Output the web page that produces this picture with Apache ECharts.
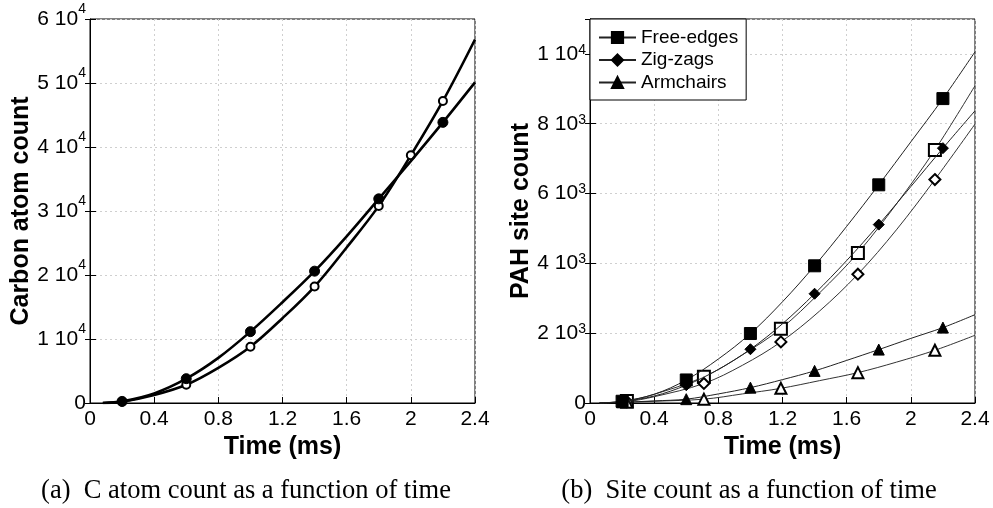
<!DOCTYPE html>
<html><head><meta charset="utf-8">
<script src="https://cdn.jsdelivr.net/npm/echarts@6/dist/echarts.min.js"></script>
<style>html,body{margin:0;padding:0;background:#fff}#c{width:993px;height:508px}</style>
</head><body><div id="c"></div>
<script>
// ---------- Panel (a): carbon atom count vs time (ms) ----------
const carbonTime   = [0.08, 0.2, 0.4, 0.6, 0.8, 1.0, 1.2, 1.4, 1.6, 1.8, 2.0, 2.2, 2.4];
const carbonFilled = [0, 250, 1500, 3800, 7050, 11150, 15750, 20600, 26050, 31900, 37800, 43850, 50100];
const carbonOpen   = [0, 200, 1250, 2850, 5500, 8800, 13250, 18200, 24300, 30800, 38700, 47200, 56800];
const carbonFilledMarks = [0.2, 0.6, 1.0, 1.4, 1.8, 2.2];
const carbonOpenMarks   = [0.2, 0.6, 1.0, 1.4, 1.8, 2.0, 2.2];

// ---------- Panel (b): PAH site count vs time (ms) ----------
const siteTimeA  = [0.06, 0.2, 0.4, 0.6, 0.8, 1.0, 1.2, 1.4, 1.6, 1.8, 2.0, 2.2, 2.4];
const freeEdges  = [0, 50, 250, 660, 1260, 1990, 2900, 3930, 5060, 6250, 7480, 8720, 10060];
const zigZags    = [0, 40, 200, 510, 960, 1540, 2270, 3130, 4080, 5110, 6200, 7300, 8370];
const armchairs  = [0, 20, 60, 110, 260, 440, 670, 920, 1220, 1530, 1850, 2160, 2530];
const siteMarksA = [0.2, 0.6, 1.0, 1.4, 1.8, 2.2];

const siteTimeB  = [0.06, 0.23, 0.4, 0.71, 0.95, 1.19, 1.43, 1.67, 1.91, 2.15, 2.4];
const freeEdgesB = [0, 60, 250, 750, 1380, 2130, 3150, 4300, 5700, 7250, 9090];
const zigZagsB   = [0, 40, 180, 560, 1080, 1750, 2630, 3690, 4960, 6400, 7990];
const armchairsB = [0, 20, 50, 110, 260, 420, 640, 870, 1170, 1510, 1940];
const siteMarksB = [0.23, 0.71, 1.19, 1.67, 2.15];

// ---------- tick labels ----------
const xTickLabels = ['0', '0.4', '0.8', '1.2', '1.6', '2', '2.4'];
const carbonTickLabels = [['0', ''], ['1 10', '4'], ['2 10', '4'], ['3 10', '4'], ['4 10', '4'], ['5 10', '4'], ['6 10', '4']];
const siteTickLabels = [['0', ''], ['2 10', '3'], ['4 10', '3'], ['6 10', '3'], ['8 10', '3'], ['1 10', '4']];
const legendNames = ['Free-edges', 'Zig-zags', 'Armchairs'];
const captions = ['(a)  C atom count as a function of time', '(b)  Site count as a function of time'];

const SANS = 'Liberation Sans, Arial, sans-serif';
const SERIF = 'Liberation Serif, Times New Roman, serif';

function richLabel(labels, step) {
  return function (v) {
    const l = labels[Math.round(v / step)];
    if (!l) return '';
    return l[1] ? '{n|' + l[0] + '}{s|' + l[1] + '}' : '{n|' + l[0] + '}';
  };
}

function xAxisCfg(gi) {
  return {
    type: 'value', gridIndex: gi, min: 0, max: 2.4, interval: 0.4, position: 'bottom',
    name: 'Time (ms)', nameLocation: 'middle', nameGap: 20,
    nameTextStyle: { fontFamily: SANS, fontWeight: 'bold', fontSize: 25, color: '#000' },
    axisLine: { show: true, onZero: false, lineStyle: { color: '#000', width: 1 } },
    axisTick: { show: true, inside: true, length: 6, lineStyle: { color: '#000' } },
    axisLabel: { margin: 6, fontSize: 21, fontFamily: SANS, color: '#000',
      formatter: v => xTickLabels[Math.round(v / 0.4)] },
    splitLine: { show: true, lineStyle: { color: '#cfcfcf', type: [2, 3], width: 1 } }
  };
}

function yAxisCfg(gi, name, max, step, labels, supShift) {
  return {
    type: 'value', gridIndex: gi, min: 0, max: max, interval: step, position: 'left',
    name: name, nameLocation: 'middle', nameGap: 52,
    nameTextStyle: { fontFamily: SANS, fontWeight: 'bold', fontSize: 25, color: '#000' },
    axisLine: { show: true, onZero: false, lineStyle: { color: '#000', width: 1 } },
    axisTick: { show: true, inside: true, length: 6, lineStyle: { color: '#000' } },
    axisLabel: { margin: 4, color: '#000', formatter: richLabel(labels, step),
      rich: {
        n: { fontSize: 21, fontFamily: SANS, color: '#000' },
        s: { fontSize: 14, fontFamily: SANS, color: '#000', padding: [0, 0, supShift * 2, 0] }
      } },
    splitLine: { show: true, lineStyle: { color: '#cfcfcf', type: [2, 3], width: 1 } }
  };
}

function yRightCfg(gi, max, step) {
  return {
    type: 'value', gridIndex: gi, min: 0, max: max, interval: step, position: 'right',
    axisLine: { show: false }, axisLabel: { show: false }, splitLine: { show: false },
    axisTick: { show: true, inside: true, length: 5, lineStyle: { color: '#000' } }
  };
}

function curve(name, ts, vs, marks, axisIdx, sym, size, lineColor, lw, bw, z) {
  return {
    type: 'line', name: name, xAxisIndex: axisIdx, yAxisIndex: axisIdx * 2,
    smooth: 0.35, symbol: sym, symbolSize: size, showSymbol: true, z: z || 2,
    data: ts.map((t, i) => marks.indexOf(t) >= 0 ? [t, vs[i]] : { value: [t, vs[i]], symbol: 'none' }),
    lineStyle: { color: lineColor, width: lw },
    itemStyle: { color: '#000', borderColor: '#000', borderWidth: bw },
    emphasis: { disabled: true }, animation: false
  };
}

const chart = echarts.init(document.getElementById('c'), null, { renderer: 'canvas' });
chart.setOption({
  animation: false,
  backgroundColor: '#fff',
  title: [
    { text: captions[0], left: 241, top: 473, textAlign: 'center',
      textStyle: { fontFamily: SERIF, fontWeight: 'normal', fontSize: 26.5, color: '#000' } },
    { text: captions[1], left: 744, top: 473, textAlign: 'center',
      textStyle: { fontFamily: SERIF, fontWeight: 'normal', fontSize: 26.5, color: '#000' } }
  ],
  grid: [
    { left: 90, top: 19, width: 385, height: 384, show: true, borderColor: '#000', borderWidth: 1, backgroundColor: 'transparent' },
    { left: 590, top: 19, width: 385, height: 384, show: true, borderColor: '#000', borderWidth: 1, backgroundColor: 'transparent' }
  ],
  xAxis: [xAxisCfg(0), xAxisCfg(1)],
  yAxis: [
    yAxisCfg(0, 'Carbon atom count', 60000, 10000, carbonTickLabels, 10),
    yRightCfg(0, 60000, 10000),
    yAxisCfg(1, 'PAH site count', 11000, 2000, siteTickLabels, 4),
    yRightCfg(1, 11000, 2000)
  ],
  legend: {
    data: legendNames, orient: 'vertical', left: 590, top: 19,
    padding: [9, 8, 8, 8], itemGap: 3.5, itemWidth: 37, itemHeight: 14,
    borderColor: '#000', borderWidth: 1, backgroundColor: '#fff',
    textStyle: { fontFamily: SANS, fontSize: 19, color: '#000', lineHeight: 18 },
    selectedMode: false, z: 10
  },
  series: [
    curve('Carbon filled', carbonTime, carbonFilled, carbonFilledMarks, 0, 'circle', 10, '#000', 2.6, 1, 3),
    curve('Carbon open', carbonTime, carbonOpen, carbonOpenMarks, 0, 'emptyCircle', 8, '#000', 2.6, 1.2, 2),
    curve(legendNames[0], siteTimeA, freeEdges, siteMarksA, 1, 'rect', 12, '#222', 1, 1, 3),
    curve(legendNames[1], siteTimeA, zigZags, siteMarksA, 1, 'diamond', 11, '#222', 1, 1, 3),
    curve(legendNames[2], siteTimeA, armchairs, siteMarksA, 1, 'triangle', 11, '#222', 1, 1, 3),
    curve('Free-edges open', siteTimeB, freeEdgesB, siteMarksB, 1, 'emptyRect', 12, '#333', 1, 1, 2),
    curve('Zig-zags open', siteTimeB, zigZagsB, siteMarksB, 1, 'emptyDiamond', 11, '#333', 1, 1, 2),
    curve('Armchairs open', siteTimeB, armchairsB, siteMarksB, 1, 'emptyTriangle', 11, '#333', 1, 1, 2)
  ]
});
</script>
</body></html>
